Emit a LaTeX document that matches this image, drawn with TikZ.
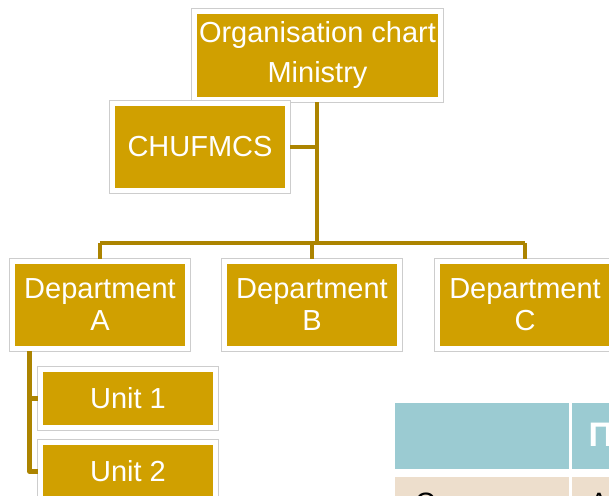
\documentclass[tikz,border=0pt]{standalone}
\usepackage{fontspec}
\setmainfont{Liberation Sans}
\usetikzlibrary{calc}
\definecolor{orggold}{RGB}{208,160,0}
\definecolor{orgline}{RGB}{172,132,0}
\definecolor{framegray}{RGB}{205,205,205}
\definecolor{tblblue}{RGB}{155,203,210}
\definecolor{tblbeige}{RGB}{237,222,204}

\begin{document}
\begin{tikzpicture}[x=1pt,y=-1pt]
    \tikzstyle{orgbox}=[rectangle, inner sep=0, fill=orggold, draw=white, line width=5pt,
        preaction={draw=framegray, line width=7pt}, text=white, align=center,
        minimum width=175pt, minimum height=87pt, font=\fontsize{29}{32}\selectfont]
    \tikzstyle{unitbox}=[orgbox, minimum height=58pt]
    \tikzstyle{link}=[draw=orgline, line width=4.5pt]
    \useasboundingbox (0,0) rectangle (609,495);
    \clip (0,0) rectangle (609,495);
    % table in the corner
    \fill[tblblue] (395,403) rectangle (569,469);
    \fill[tblblue] (572,403) rectangle (620,469);
    \fill[tblbeige] (395,477) rectangle (569,500);
    \fill[tblbeige] (572,477) rectangle (620,500);
    \node[anchor=base west, inner sep=0, text=white, font=\fontsize{34}{34}\selectfont\bfseries] (HEAD) at (588.5,446) {П};
    \node[anchor=base west, inner sep=0, font=\fontsize{28}{28}\selectfont] (ROW1) at (415,512) {С};
    \node[anchor=base west, inner sep=0, font=\fontsize{28}{28}\selectfont] (ROW2) at (589.5,512) {А};
    % chart
    \node[orgbox, minimum width=246pt, minimum height=88pt, font=\fontsize{29}{40}\selectfont] (MIN) at (317.5,55.5) {Organisation chart\\Ministry};
    \node[orgbox] (CHU) at (200,147) {CHUFMCS};
    \node[orgbox] (DEPA) at (100,305) {Department\\A};
    \node[orgbox] (DEPB) at (312,305) {Department\\B};
    \node[orgbox] (DEPC) at (525,305) {Department\\C};
    \node[unitbox] (UNIT1) at (128,398.5) {Unit 1};
    \node[unitbox] (UNIT2) at (128,471.5) {Unit 2};
    \coordinate (HUB) at ($(MIN.south)+(-0.5,0)$);
    \coordinate (BAR) at (317,243);
    \coordinate (DUMA) at ($(DEPA.south west)+(19.5,0)$);
    \draw[link] (HUB) -- (BAR);
    \draw[link] (CHU.east) -- (CHU.east -| HUB);
    \draw[link] (DEPA.north |- BAR) -- (DEPC.north |- BAR);
    \draw[link] (DEPA.north |- BAR) -- (DEPA.north);
    \draw[link] (DEPB.north |- BAR) -- (DEPB.north);
    \draw[link] (DEPC.north |- BAR) -- (DEPC.north);
    \draw[link, line join=round] (DUMA) |- (UNIT1.west);
    \draw[link, line join=round] (DUMA) |- (UNIT2.west);
\end{tikzpicture}
\end{document}
